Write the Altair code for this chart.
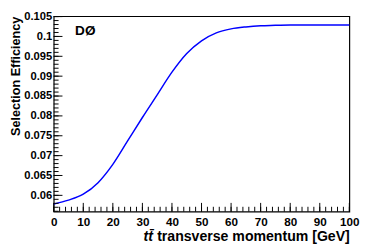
import altair as alt
import pandas as pd

pt = [0, 5, 10, 15, 20, 25, 30, 35, 40, 45, 50, 55, 60, 65, 70, 75, 80, 85, 90, 95, 100]
eff = [0.0578, 0.0588, 0.0603, 0.0632, 0.0678, 0.0737, 0.0796, 0.0853, 0.0910, 0.0957,
       0.0989, 0.1009, 0.1019, 0.1024, 0.1027, 0.1028, 0.1029, 0.1029, 0.1029, 0.1029, 0.1029]

x_major = list(range(0, 101, 10))
x_minor = list(range(0, 101, 2))
y_major = [0.06, 0.065, 0.07, 0.075, 0.08, 0.085, 0.09, 0.095, 0.1, 0.105]
y_minor = [round(0.056 + 0.001 * k, 3) for k in range(0, 50)]

W, H = 304, 201
FONT = "Liberation Sans"
xs = alt.Scale(domain=[0, 100], nice=False, zero=False)
ys = alt.Scale(domain=[0.0559, 0.1051], nice=False, zero=False)

x_axis = alt.Axis(
    orient="bottom", values=x_major, ticks=False, domain=False, grid=False,
    labelFont=FONT, labelFontSize=12, labelFontWeight="bold", labelColor="black",
    labelPadding=5, labelFlush=False, format="d",
    title="transverse momentum [GeV]", titleFont=FONT, titleFontSize=14.5,
    titleFontWeight="bold", titleColor="black", titleAnchor="end", titlePadding=3)
y_axis = alt.Axis(
    orient="left", values=y_major, ticks=False, domain=False, grid=False,
    labelFont=FONT, labelFontSize=11.5, labelFontWeight="bold", labelColor="black",
    labelPadding=2, labelFlush=False, format=".3~f",
    title="Selection Efficiency", titleFont=FONT, titleFontSize=13,
    titleFontWeight="bold", titleColor="black", titleAnchor="end", titlePadding=1)

df = pd.DataFrame({"pt": pt, "eff": eff})

line = alt.Chart(df).mark_line(color="#0000ff", strokeWidth=1.5, interpolate="monotone").encode(
    x=alt.X("pt:Q", scale=xs, axis=x_axis),
    y=alt.Y("eff:Q", scale=ys, axis=y_axis),
)

def yticks(vals, size):
    return alt.Chart(pd.DataFrame({"eff": vals})).mark_rule(color="black", strokeWidth=1).encode(
        y=alt.Y("eff:Q", scale=ys, axis=y_axis), x=alt.value(0), x2=alt.value(size))

def xticks(vals, size):
    return alt.Chart(pd.DataFrame({"pt": vals})).mark_rule(color="black", strokeWidth=1).encode(
        x=alt.X("pt:Q", scale=xs, axis=x_axis), y=alt.value(H), y2=alt.value(H - size))

d0 = alt.Chart(pd.DataFrame({"t": ["DØ"]})).mark_text(
    font=FONT, fontSize=14, fontWeight="bold", align="left", baseline="alphabetic", color="black"
).encode(text="t:N", x=alt.value(22), y=alt.value(19))

tt = alt.Chart(pd.DataFrame({"t": ["tt\u0304"]})).mark_text(
    font=FONT, fontSize=14.5, fontWeight="bold", fontStyle="italic", align="right",
    baseline="alphabetic", color="black"
).encode(text="t:N", x=alt.value(102), y=alt.value(H + 30))

chart = alt.layer(
    line, yticks(y_minor, 5), yticks(y_major, 9), xticks(x_minor, 5), xticks(x_major, 9), d0, tt
).properties(
    width=W, height=H,
    autosize=alt.AutoSizeParams(type="none"),
    padding={"left": 47, "top": 5, "right": 12, "bottom": 35},
).configure_view(stroke="black", strokeWidth=1.2)

chart.save("out.html", embed_options={"renderer": "svg", "actions": False})
